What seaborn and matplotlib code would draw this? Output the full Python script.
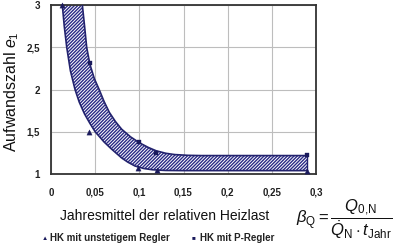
import matplotlib
matplotlib.use("Agg")
import matplotlib.pyplot as plt
import seaborn as sns
import pandas as pd

# ---- data ----
upper_x = [0.0355, 0.0380, 0.0404, 0.0440, 0.0490, 0.0545, 0.0600, 0.0660, 0.0730, 0.0800, 0.0900, 0.1000, 0.1100, 0.1190, 0.1300, 0.1400, 0.1550, 0.1700, 0.2900]
upper_y = [3.00, 2.75, 2.50, 2.30, 2.13, 2.00, 1.86, 1.73, 1.62, 1.53, 1.44, 1.37, 1.315, 1.275, 1.245, 1.230, 1.221, 1.218, 1.218]
lower_x = [0.0128, 0.0150, 0.0178, 0.0220, 0.0272, 0.0320, 0.0380, 0.0440, 0.0500, 0.0600, 0.0680, 0.0740, 0.0800, 0.0870, 0.0950, 0.1050, 0.1150, 0.1300, 0.1500, 0.2900]
lower_y = [3.00, 2.75, 2.50, 2.22, 2.00, 1.85, 1.71, 1.60, 1.50, 1.38, 1.30, 1.245, 1.19, 1.14, 1.095, 1.065, 1.05, 1.042, 1.04, 1.04]

tri_x = [0.0125, 0.043, 0.099, 0.120, 0.290]
tri_y = [3.00, 1.50, 1.07, 1.047, 1.035]
sq_x = [0.044, 0.100, 0.119, 0.290]
sq_y = [2.31, 1.375, 1.25, 1.22]

x_ticks = [0, 0.05, 0.1, 0.15, 0.2, 0.25, 0.3]
x_labels = ["0", "0,05", "0,1", "0,15", "0,2", "0,25", "0,3"]
y_ticks = [1, 1.5, 2, 2.5, 3]
y_labels = ["1", "1,5", "2", "2,5", "3"]

series_names = ["HK mit unstetigem Regler", "HK mit P-Regler"]

# ---- style ----
sns.set_style("white")
plt.rcParams['font.family'] = ['Liberation Sans', 'DejaVu Sans']
plt.rcParams['hatch.linewidth'] = 1.0
plt.rcParams['mathtext.fontset'] = 'custom'
plt.rcParams['mathtext.rm'] = 'Liberation Sans'
plt.rcParams['mathtext.it'] = 'Liberation Sans:italic'

navy = "#23236e"

fig = plt.figure(figsize=(4.0, 2.52), dpi=100)
ax = fig.add_axes([51/400, 1-174/252, (316-51)/400, (174-5)/252])

# band polygon
poly_x = upper_x + lower_x[::-1]
poly_y = upper_y + lower_y[::-1]
ax.fill(poly_x, poly_y, facecolor="white", edgecolor="#2a2a85", hatch="//////////", linewidth=0, zorder=2)

up_df = pd.DataFrame({"x": upper_x, "y": upper_y})
lo_df = pd.DataFrame({"x": lower_x, "y": lower_y})
sns.lineplot(data=up_df, x="x", y="y", sort=False, estimator=None, color=navy, lw=1.2, ax=ax, zorder=3)
sns.lineplot(data=lo_df, x="x", y="y", sort=False, estimator=None, color=navy, lw=1.2, ax=ax, zorder=3)
ax.plot([upper_x[-1], lower_x[-1]], [upper_y[-1], lower_y[-1]], color=navy, lw=1.0, zorder=3)

tri_df = pd.DataFrame({"x": tri_x, "y": tri_y})
sq_df = pd.DataFrame({"x": sq_x, "y": sq_y})
sns.scatterplot(data=tri_df, x="x", y="y", marker="^", s=14, color="#1a1a5c", edgecolor="#1a1a5c", ax=ax, zorder=4, clip_on=False)
sns.scatterplot(data=sq_df, x="x", y="y", marker="s", s=10, color="#1a1a5c", edgecolor="#1a1a5c", ax=ax, zorder=4, clip_on=False)

ax.set_xlim(0, 0.3)
ax.set_ylim(1, 3)
ax.set_xticks(x_ticks)
ax.set_xticklabels(x_labels, fontsize=7, fontweight="bold")
ax.set_yticks(y_ticks)
ax.set_yticklabels(y_labels, fontsize=7, fontweight="bold")
ax.tick_params(axis="x", direction="out", length=3, width=1, pad=7, colors="#222222")
ax.tick_params(axis="y", direction="out", length=3, width=1, pad=5, colors="#222222")
ax.grid(True, color="#bdbdbd", lw=0.8, zorder=0)
ax.set_axisbelow(True)
for s in ax.spines.values():
    s.set_color("#333333")
    s.set_linewidth(1.3)
ax.set_xlabel("")
ax.set_ylabel("")

fig.text(12/400, 1-92/252, r"Aufwandszahl $e_1$", rotation=90, fontsize=11.5,
         ha="center", va="center", color="#111111")
fig.text(165/400, 1-216/252, "Jahresmittel der relativen Heizlast", fontsize=10,
         ha="center", va="center", color="#111111")

# legend
fig.text(45/400, 1-238/252, "\u25B2", fontsize=4.5, ha="center", va="center", color="#1a1a5c")
fig.text(50/400, 1-238/252, series_names[0], fontsize=7, fontweight="bold", ha="left", va="center", color="#222222")
fig.text(194/400, 1-238/252, "\u25A0", fontsize=4.5, ha="center", va="center", color="#1a1a5c")
fig.text(200/400, 1-238/252, series_names[1], fontsize=7, fontweight="bold", ha="left", va="center", color="#222222")

# formula
fig.text(296/400, 1-219/252,
         r"$\beta_{\mathrm{Q}} = \dfrac{Q_{\mathrm{0{,}N}}}{\dot{Q}_{\mathrm{N}}\cdot t_{\mathrm{Jahr}}}$",
         fontsize=12, ha="left", va="center", color="#111111")

fig.savefig("out.png", dpi=100)
